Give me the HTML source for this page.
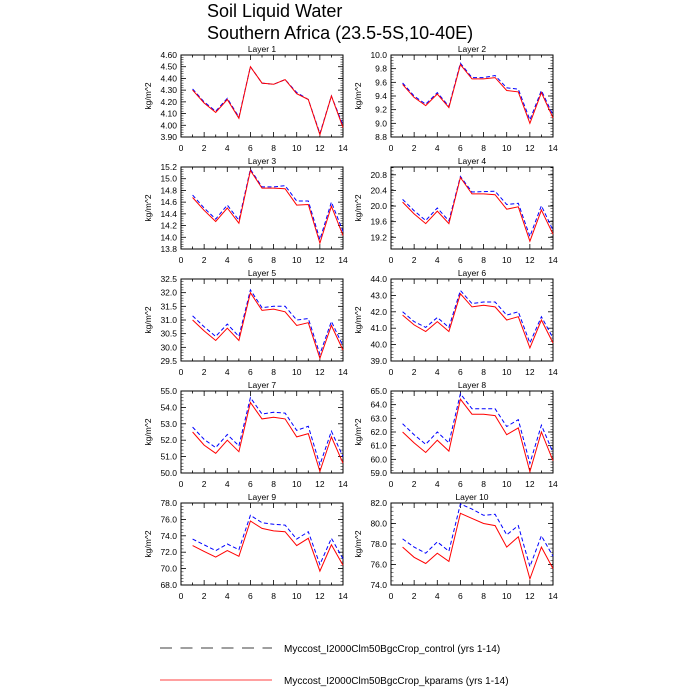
<!DOCTYPE html>
<html><head><meta charset="utf-8"><style>
body{margin:0;background:#fff}
svg{display:block;font-family:"Liberation Sans",sans-serif}
</style></head><body>
<svg id="s" width="700" height="700" xmlns="http://www.w3.org/2000/svg">
<text x="207" y="17" font-size="18">Soil Liquid Water</text>
<text x="207" y="39" font-size="18">Southern Africa (23.5-5S,10-40E)</text>
<line x1="160" y1="648" x2="272" y2="648" stroke="#000" stroke-width="0.8" stroke-dasharray="12,8.5"/>
<text x="284" y="652" font-size="10">Myccost_I2000Clm50BgcCrop_control (yrs 1-14)</text>
<line x1="160" y1="680" x2="272" y2="680" stroke="red" stroke-width="0.8"/>
<text x="284" y="684" font-size="10">Myccost_I2000Clm50BgcCrop_kparams (yrs 1-14)</text>
</svg>
<script>
const P=[
{t:"Layer 1",lo:3.9,hi:4.6,tk:[3.9,4.0,4.1,4.2,4.3,4.4,4.5,4.6],d:2,mn:0.02,
r:[4.30,4.19,4.11,4.22,4.06,4.50,4.36,4.35,4.39,4.27,4.22,3.92,4.25,3.98],b:[4.31,4.20,4.12,4.23,4.07,4.50,4.36,4.35,4.39,4.28,4.22,3.93,4.25,4.00]},
{t:"Layer 2",lo:8.8,hi:10.0,tk:[8.8,9.0,9.2,9.4,9.6,9.8,10.0],d:1,mn:0.04,
r:[9.57,9.38,9.26,9.43,9.23,9.86,9.65,9.65,9.67,9.48,9.46,9.00,9.45,9.08],b:[9.59,9.40,9.28,9.45,9.25,9.88,9.67,9.67,9.70,9.52,9.50,9.05,9.48,9.12]},
{t:"Layer 3",lo:13.8,hi:15.2,tk:[13.8,14.0,14.2,14.4,14.6,14.8,15.0,15.2],d:1,mn:0.04,
r:[14.68,14.46,14.27,14.50,14.24,15.14,14.84,14.84,14.83,14.55,14.56,13.90,14.53,14.03],b:[14.72,14.50,14.31,14.55,14.29,15.16,14.86,14.86,14.88,14.62,14.62,13.96,14.60,14.10]},
{t:"Layer 4",lo:18.9,hi:21.0,tk:[19.2,19.6,20.0,20.4,20.8],d:1,mn:0.08,
r:[20.10,19.80,19.55,19.87,19.55,20.73,20.31,20.31,20.29,19.92,19.98,19.10,19.90,19.28],b:[20.17,19.88,19.63,19.95,19.62,20.76,20.36,20.37,20.38,20.04,20.07,19.22,20.01,19.38]},
{t:"Layer 5",lo:29.5,hi:32.5,tk:[29.5,30.0,30.5,31.0,31.5,32.0,32.5],d:1,mn:0.1,
r:[31.0,30.6,30.25,30.7,30.25,32.0,31.35,31.4,31.3,30.8,30.9,29.6,30.8,29.9],b:[31.15,30.75,30.4,30.85,30.4,32.1,31.45,31.5,31.5,31.0,31.05,29.75,30.95,30.05]},
{t:"Layer 6",lo:39,hi:44,tk:[39,40,41,42,43,44],d:1,mn:0.2,
r:[41.8,41.2,40.8,41.4,40.8,43.1,42.3,42.4,42.3,41.5,41.7,39.8,41.5,40.1],b:[42.0,41.4,41.05,41.65,41.05,43.3,42.5,42.6,42.6,41.8,42.0,40.1,41.7,40.4]},
{t:"Layer 7",lo:50,hi:55,tk:[50,51,52,53,54,55],d:1,mn:0.2,
r:[52.5,51.7,51.2,52.0,51.3,54.3,53.3,53.4,53.3,52.2,52.4,50.1,52.2,50.6],b:[52.8,52.05,51.55,52.35,51.65,54.6,53.6,53.7,53.65,52.6,52.85,50.5,52.55,51.0]},
{t:"Layer 8",lo:59,hi:65,tk:[59,60,61,62,63,64,65],d:1,mn:0.2,
r:[62.0,61.2,60.5,61.4,60.6,64.4,63.3,63.3,63.2,61.8,62.3,59.1,62.0,59.9],b:[62.6,61.8,61.1,62.0,61.2,64.8,63.7,63.7,63.7,62.4,62.9,59.7,62.5,60.5]},
{t:"Layer 9",lo:68,hi:78,tk:[68,70,72,74,76,78],d:1,mn:0.4,
r:[72.8,72.1,71.4,72.2,71.5,75.8,74.9,74.6,74.5,72.8,73.7,69.7,72.9,70.4],b:[73.6,72.9,72.2,73.0,72.3,76.5,75.6,75.4,75.3,73.6,74.5,70.5,73.7,71.2]},
{t:"Layer 10",lo:74,hi:82,tk:[74,76,78,80,82],d:1,mn:0.4,
r:[77.7,76.7,76.1,77.1,76.3,81.0,80.5,80.0,79.8,77.7,78.7,74.6,77.7,75.6],b:[78.5,77.7,77.1,78.2,77.3,81.9,81.4,80.8,80.9,78.9,79.8,75.8,78.8,76.8]}
];
let h="";
P.forEach((p,i)=>{
 const L=i%2?391:181, W=162, T=55+Math.floor(i/2)*112, H=82;
 const X=v=>L+v*W/14, Y=v=>T+H-(v-p.lo)/(p.hi-p.lo)*H;
 h+=`<text x="${L+W/2}" y="${T-3}" font-size="8.5" text-anchor="middle">${p.t}</text>`;
 h+=`<rect x="${L}" y="${T}" width="${W}" height="${H}" fill="none" stroke="#000" stroke-width="1"/>`;
 for(let k=0;k<=14;k++){const x=X(k);const len=k%2?2.5:5;
  h+=`<line x1="${x}" y1="${T+H}" x2="${x}" y2="${T+H-len}" stroke="#000" stroke-width="0.8"/><line x1="${x}" y1="${T}" x2="${x}" y2="${T+len}" stroke="#000" stroke-width="0.8"/>`;
  if(k%2==0)h+=`<text x="${x}" y="${T+H+14}" font-size="8.5" text-anchor="middle">${k}</text>`;}
 p.tk.forEach(v=>{const y=Y(v);
  h+=`<line x1="${L}" y1="${y}" x2="${L+5}" y2="${y}" stroke="#000" stroke-width="0.8"/><line x1="${L+W}" y1="${y}" x2="${L+W-5}" y2="${y}" stroke="#000" stroke-width="0.8"/>`;
  h+=`<text x="${L-4}" y="${y+3}" font-size="8.5" text-anchor="end">${v.toFixed(p.d)}</text>`;});
 for(let v=p.lo;v<=p.hi+1e-9;v+=p.mn){const y=Y(v);
  h+=`<line x1="${L}" y1="${y}" x2="${L+2.5}" y2="${y}" stroke="#000" stroke-width="0.5"/><line x1="${L+W}" y1="${y}" x2="${L+W-2.5}" y2="${y}" stroke="#000" stroke-width="0.5"/>`;}
 h+=`<text transform="translate(${L-30},${T+H/2}) rotate(-90)" font-size="8.5" text-anchor="middle">kg/m^2</text>`;
 const pts=a=>a.map((v,j)=>X(j+1).toFixed(1)+","+Y(v).toFixed(1)).join(" ");
 h+=`<polyline points="${pts(p.b)}" fill="none" stroke="blue" stroke-width="1" stroke-dasharray="4,2.5"/>`;
 h+=`<polyline points="${pts(p.r)}" fill="none" stroke="red" stroke-width="1"/>`;
});
document.getElementById("s").insertAdjacentHTML("beforeend",h);
</script>
</body></html>
